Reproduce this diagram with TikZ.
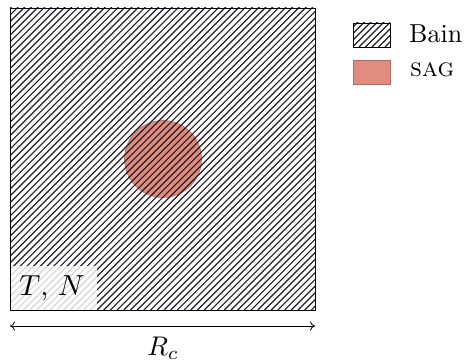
\documentclass[tikz,border=0pt]{standalone}
\usetikzlibrary{arrows.meta}
\definecolor{sag}{RGB}{226,140,127}
\definecolor{sagborder}{RGB}{170,110,105}
\definecolor{hatchc}{RGB}{35,30,38}
\tikzset{
  hatchline/.style={draw=hatchc, line width=1.15pt},
  frame/.style={draw=black, line width=0.9pt},
  lbl/.style={inner sep=0pt},
}
\begin{document}
\begin{tikzpicture}[x=1pt,y=-1pt]
\useasboundingbox (0,0) rectangle (468,363);
% main square
\coordinate (sqA) at (10,8);
\coordinate (sqB) at (315,310);
% SAG circle
\fill[sag] (163,159) circle (38.5);
\draw[sagborder, line width=0.6pt] (163,159) circle (38.5);
\begin{scope}
  \clip (sqA) rectangle (sqB);
  \foreach \i in {-305,-298.3,...,320} {
    \draw[hatchline] (\i,310) -- ++(310,-310);
  }
\end{scope}
% T,N box
\fill[white, opacity=0.82] (10,266) rectangle (97,310);
\node[lbl, anchor=center] (tn) at (52,288) {\scalebox{2.9}{$T$, $N$}};
\draw[frame] (sqA) rectangle (sqB);
% dimension arrow
\coordinate (al) at (10,326);
\coordinate (ar) at (315,326);
\draw[line width=0.8pt, {To[length=5pt,width=9pt]}-{To[length=5pt,width=9pt]}] (al) -- (ar);
\node[lbl] (rc) at (163,348) {\scalebox{2.7}{$R_c$}};
% legend
\begin{scope}
  \clip (353,23) rectangle (390,47);
  \foreach \i in {320,326.5,...,400} {
    \draw[hatchline] (\i,47) -- ++(30,-30);
  }
\end{scope}
\draw[frame, line width=0.8pt] (353,23) rectangle (390,47) node[coordinate] (lb) {};
\node[lbl, anchor=base west] (bain) at (409,43) {\scalebox{2.6}{Bain}};
\fill[sag] (353,60) rectangle (390,84);
\draw[sagborder, line width=0.6pt] (353,60) rectangle (390,84);
\node[lbl, anchor=base west] (sagt) at (410,77) {\scalebox{2.6}{\textsc{sag}}};
\end{tikzpicture}
\end{document}
